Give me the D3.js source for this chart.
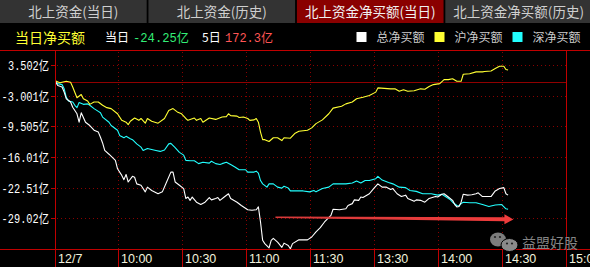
<!DOCTYPE html>
<html><head><meta charset="utf-8">
<script src="https://cdn.jsdelivr.net/npm/d3@7"></script>
<style>
html,body{margin:0;padding:0;background:#000;overflow:hidden;}
svg{display:block;}
</style></head>
<body>
<svg id="c" width="590" height="267"></svg>
<script>
// ---------- DATA ----------
const tabLabels = ["北上资金(当日)", "北上资金(历史)", "北上资金净买额(当日)", "北上资金净买额(历史)"];
const activeTab = 2;
const titleText = "当日净买额";
const todayValue = "-24.25亿";
const fiveDayValue = "172.3亿";
const seriesNames = ["总净买额", "沪净买额", "深净买额"];
const seriesColors = ["#ffffff", "#ffff33", "#22ffff"];
const yTickValues = [3.502, -3.001, -9.505, -16.01, -22.51, -29.02];
const yTickLabels = ["3.502亿", "-3.001亿", "-9.505亿", "-16.01亿", "-22.51亿", "-29.02亿"];
// minutes of trading since 9:30 (lunch break removed), 0..240
const xTickMinutes = [0, 30, 60, 90, 120, 150, 180, 210, 240];
const xTickLabels = ["12/7", "10:00", "10:30", "11:00", "11:30", "13:30", "14:00", "14:30", "15:00"];

// 总净买额 (total)
const totalMinutes = [1,2,4,5,6,8,9,11,12,13,15,17,19,21,22,23,24,26,29,30,32,33,34,35,37,38,39,41,43,44,46,49,51,53,55,56,57,59,61,62,63,64,65,67,69,71,73,74,76,77,78,80,82,83,86,88,91,93,95,96,97,98,99,101,102,103,105,107,108,110,111,112,115,119,121,123,125,127,130,131,134,137,138,140,141,143,144,145,148,150,152,154,156,158,159,161,163,165,166,169,170,172,174,176,179,180,182,183,185,187,188,189,190,191,192,194,196,198,199,201,205,207,209,211,212,213];
const totalValues = [-0.05,-0.8,-1.1,-2.2,-3.6,-4.3,-5.4,-6.8,-8.6,-6.6,-8.6,-9.3,-10.3,-10.7,-11.8,-13.0,-14.6,-15.4,-16.7,-18.5,-19.9,-20.8,-19.7,-21.3,-20.1,-20.3,-21.7,-22.0,-23.4,-22.4,-23.1,-23.8,-23.4,-21.3,-19.2,-19.2,-21.3,-22.0,-22.7,-24.8,-24.5,-25.2,-24.5,-25.6,-26.1,-25.6,-24.6,-25.1,-24.8,-24.6,-25.2,-24.5,-23.8,-24.8,-25.6,-26.3,-27.2,-27.3,-27.2,-26.6,-29.8,-33.7,-34.4,-35.3,-33.7,-33.3,-34.1,-35.2,-34.3,-34.8,-35.5,-34.4,-33.6,-33.6,-33.0,-31.9,-31.0,-29.8,-28.4,-27.1,-27.2,-27.0,-26.3,-25.9,-25.1,-25.2,-24.5,-24.6,-23.8,-22.7,-21.7,-22.4,-22.4,-22.9,-22.7,-23.8,-24.4,-24.1,-24.8,-25.4,-25.1,-25.2,-25.6,-24.8,-24.4,-24.5,-23.9,-23.8,-24.5,-25.2,-26.1,-26.6,-26.5,-25.6,-23.9,-24.1,-24.0,-23.8,-23.6,-24.4,-24.4,-23.2,-22.7,-22.5,-23.8,-24.1];

// 沪净买额 (Shanghai)
const shMinutes = [1,3,6,8,9,11,13,14,16,17,19,21,23,25,27,30,32,34,35,36,38,40,41,43,44,46,49,52,54,56,58,60,62,63,66,67,69,70,73,76,79,81,82,83,86,87,89,91,92,94,95,96,97,98,99,101,103,105,107,108,111,113,115,119,121,123,126,129,131,135,137,140,142,145,148,151,152,158,160,162,164,166,169,172,174,176,178,181,183,185,187,189,191,192,195,198,201,202,205,207,209,211,212,213];
const shValues = [0.15,-0.2,0.1,-0.1,-1.1,-3.4,-2.7,-3.6,-4.1,-4.8,-4.3,-4.3,-5.0,-5.5,-5.7,-6.8,-8.2,-8.6,-9.1,-8.4,-7.7,-8.2,-7.8,-8.8,-7.8,-8.4,-8.8,-7.8,-6.1,-5.7,-6.4,-6.8,-7.8,-8.2,-7.7,-8.2,-7.8,-8.6,-7.7,-8.0,-7.5,-7.4,-6.8,-7.2,-7.3,-7.6,-7.5,-7.8,-8.2,-8.1,-7.8,-8.6,-10.7,-12.3,-12.3,-12.7,-11.9,-11.9,-12.5,-11.9,-12.0,-11.0,-10.5,-10.3,-9.8,-8.9,-8.1,-6.8,-5.6,-5.2,-4.7,-4.3,-3.6,-3.3,-2.9,-2.2,-1.3,-1.5,-1.5,-2.0,-1.7,-2.0,-1.9,-1.5,-1.6,-1.0,-0.6,-0.4,0.45,0.45,0.65,0.1,0.1,1.6,1.7,2.1,2.1,2.2,2.3,2.8,3.3,3.3,2.6,2.5];

// 深净买额 (Shenzhen)
const szMinutes = [1,2,4,5,6,7,9,10,11,12,14,16,17,19,21,22,23,26,27,30,31,33,34,36,37,39,41,42,44,48,50,52,54,55,57,59,61,62,64,66,68,70,73,74,76,78,79,81,83,85,87,90,91,94,95,96,97,98,100,101,103,105,107,108,110,111,114,117,120,122,123,126,129,131,134,137,140,142,144,146,148,151,152,154,157,159,162,165,167,170,173,177,180,182,184,186,187,189,190,191,192,195,198,201,204,207,210,212,213];
const szValues = [0.1,-0.4,-0.6,-1.5,-3.3,-4.1,-4.3,-5.0,-5.5,-4.4,-4.8,-4.7,-5.0,-5.7,-6.3,-6.6,-7.5,-8.6,-9.3,-10.3,-11.4,-11.9,-11.6,-12.1,-12.3,-13.2,-13.9,-14.6,-14.2,-14.6,-14.8,-14.5,-13.2,-13.1,-14.0,-15.0,-15.6,-16.7,-16.8,-16.8,-17.4,-17.1,-17.3,-16.9,-17.4,-17.6,-17.4,-17.1,-17.6,-18.1,-18.7,-18.7,-19.2,-19.2,-19.0,-19.4,-21.0,-21.7,-22.4,-21.7,-21.7,-22.4,-22.6,-22.2,-22.6,-23.2,-23.2,-23.2,-23.4,-23.1,-23.4,-22.7,-22.4,-21.7,-21.7,-21.7,-21.5,-21.1,-21.5,-21.0,-21.0,-20.6,-20.1,-20.9,-21.4,-21.7,-22.4,-22.5,-23.1,-23.3,-23.8,-23.8,-24.1,-23.9,-24.5,-25.1,-25.6,-26.3,-26.4,-25.9,-25.6,-25.7,-25.7,-26.1,-26.5,-26.2,-26.1,-27.0,-27.1];

// annotation arrow (in data units: minute, value)
const arrowFrom = [104, -28.8];
const arrowTo = [215.5, -29.25];
const watermarkText = "益盟好股";

// ---------- DRAW ----------
const svg = d3.select("#c");
const W = 590, H = 267;
const plotTop = 50, plotBottom = 249, axisLeft = 55, axisRight = 566;
const cjk = "'Noto Sans CJK SC','Noto Sans',sans-serif";
const mono = "'Liberation Mono','DejaVu Sans Mono','Noto Sans CJK SC',monospace";

svg.append("rect").attr("width", W).attr("height", H).attr("fill", "#000");

const x = d3.scaleLinear().domain([0, 240]).range([53.5, 565.7]);
const y = d3.scaleLinear().domain([3.502, -29.02]).range([65.3, 218.3]);

// tabs
const tabX = d3.scaleBand().domain(d3.range(tabLabels.length)).range([0, W + 2]).paddingInner(0.012);
const tabs = svg.append("g");
tabs.selectAll("rect").data(tabLabels).join("rect")
  .attr("x", (d, i) => tabX(i)).attr("y", 0)
  .attr("width", tabX.bandwidth()).attr("height", 23)
  .attr("fill", (d, i) => i === activeTab ? "#8a0000" : "#333333");
tabs.selectAll("text").data(tabLabels).join("text")
  .attr("x", (d, i) => tabX(i) + tabX.bandwidth() / 2).attr("y", 16.5)
  .attr("text-anchor", "middle")
  .attr("font-family", cjk).attr("font-size", 13.5)
  .attr("fill", (d, i) => i === activeTab ? "#f0f0f0" : "#cfcfcf")
  .text(d => d);

// header row
svg.append("text").attr("x", 15).attr("y", 42.5).attr("font-family", cjk).attr("font-size", 14)
  .attr("fill", "#ffff33").text(titleText);
svg.append("text").attr("x", 105).attr("y", 42).attr("font-family", cjk).attr("font-size", 12)
  .attr("fill", "#ffffff").text("当日");
svg.append("text").attr("x", 133).attr("y", 42).attr("font-family", mono).attr("font-size", 13)
  .attr("textLength", 56).attr("lengthAdjust", "spacingAndGlyphs")
  .attr("fill", "#33ee77").text(todayValue);
svg.append("text").attr("x", 202).attr("y", 42).attr("font-family", cjk).attr("font-size", 12)
  .attr("fill", "#ffffff").text("5日");
svg.append("text").attr("x", 225).attr("y", 42).attr("font-family", mono).attr("font-size", 13)
  .attr("textLength", 48).attr("lengthAdjust", "spacingAndGlyphs")
  .attr("fill", "#ff5555").text(fiveDayValue);

// legend
const legX = [356.5, 434.5, 512.5];
const leg = svg.append("g");
leg.selectAll("rect").data(seriesNames).join("rect")
  .attr("x", (d, i) => legX[i]).attr("y", 32).attr("width", 10).attr("height", 10)
  .attr("fill", (d, i) => seriesColors[i]);
leg.selectAll("text").data(seriesNames).join("text")
  .attr("x", (d, i) => legX[i] + 20).attr("y", 42)
  .attr("font-family", cjk).attr("font-size", 12).attr("fill", "#cccccc")
  .text(d => d);

// grid (dotted)
const grid = svg.append("g").attr("stroke", "#8a0000").attr("stroke-width", 1).attr("stroke-dasharray", "1,3").attr("shape-rendering", "crispEdges");
grid.selectAll("line.h").data(yTickValues).join("line").attr("class", "h")
  .attr("x1", axisLeft + 2).attr("x2", axisRight)
  .attr("y1", d => Math.round(y(d)) + 0.5).attr("y2", d => Math.round(y(d)) + 0.5);
grid.selectAll("line.v").data(xTickMinutes.slice(1, -1)).join("line").attr("class", "v")
  .attr("y1", plotTop + 2).attr("y2", plotBottom)
  .attr("x1", d => Math.round(x(d)) + 0.5).attr("x2", d => Math.round(x(d)) + 0.5);

// zero line
svg.append("line").attr("x1", axisLeft).attr("x2", axisRight)
  .attr("y1", Math.round(y(0)) + 0.5).attr("y2", Math.round(y(0)) + 0.5)
  .attr("stroke", "#900000").attr("stroke-width", 1).attr("shape-rendering", "crispEdges");

// frame lines
const frame = svg.append("g").attr("stroke", "#c00000").attr("stroke-width", 1).attr("shape-rendering", "crispEdges");
frame.append("line").attr("x1", 0).attr("x2", W).attr("y1", plotTop + 0.5).attr("y2", plotTop + 0.5);
frame.append("line").attr("x1", 0).attr("x2", W).attr("y1", plotBottom + 0.5).attr("y2", plotBottom + 0.5);
frame.append("line").attr("x1", axisLeft + 0.5).attr("x2", axisLeft + 0.5).attr("y1", plotTop).attr("y2", H);
frame.append("line").attr("x1", axisRight + 0.5).attr("x2", axisRight + 0.5).attr("y1", plotTop).attr("y2", H);
frame.selectAll("line.tk").data(xTickMinutes.slice(1, -1)).join("line").attr("class", "tk")
  .attr("x1", d => Math.round(x(d)) + 0.5).attr("x2", d => Math.round(x(d)) + 0.5)
  .attr("y1", plotBottom).attr("y2", H);
frame.selectAll("line.ytk").data(yTickValues).join("line").attr("class", "ytk")
  .attr("x1", 51).attr("x2", axisLeft)
  .attr("y1", d => Math.round(y(d)) + 0.5).attr("y2", d => Math.round(y(d)) + 0.5);

// y labels
svg.append("g").selectAll("text").data(yTickLabels).join("text")
  .attr("x", 49).attr("y", (d, i) => y(yTickValues[i]) + 5)
  .attr("text-anchor", "end")
  .attr("font-family", mono).attr("font-size", 13)
  .attr("textLength", d => (d.length - 1) * 6.4 + 9).attr("lengthAdjust", "spacingAndGlyphs")
  .attr("fill", "#ffffff").text(d => d);

// x labels
svg.append("g").selectAll("text").data(xTickLabels).join("text")
  .attr("x", (d, i) => (i === 0 ? axisLeft : Math.round(x(xTickMinutes[i]))) + 3)
  .attr("y", 262.5)
  .attr("font-family", "'Liberation Sans',Arial,sans-serif").attr("font-size", 12.5)
  .attr("fill", "#f2f2dc").text(d => d);

// series lines
const clip = svg.append("clipPath").attr("id", "pc").append("rect")
  .attr("x", axisLeft + 1).attr("y", plotTop + 1).attr("width", axisRight - axisLeft - 1).attr("height", plotBottom - plotTop - 1);
const line = d3.line().x(d => x(d[0])).y(d => y(d[1]));
const series = [
  d3.zip(totalMinutes, totalValues),
  d3.zip(shMinutes, shValues),
  d3.zip(szMinutes, szValues)
];
const lines = svg.append("g").attr("clip-path", "url(#pc)");
[2, 1, 0].forEach(i => {
  lines.append("path").datum(series[i])
    .attr("d", line).attr("fill", "none")
    .attr("stroke", seriesColors[i]).attr("stroke-width", 1.1)
    .attr("stroke-linejoin", "round");
});

// annotation arrow
(function () {
  const x0 = x(arrowFrom[0]), y0 = y(arrowFrom[1]);
  const x1 = x(arrowTo[0]), y1 = y(arrowTo[1]);
  const headLen = 9, headHalf = 5;
  const xb = x1 - headLen;
  const yb = y0 + (y1 - y0) * (xb - x0) / (x1 - x0);
  const p = d3.path();
  p.moveTo(x0, y0 - 0.8);
  p.lineTo(xb, yb - 2);
  p.lineTo(xb, yb - headHalf);
  p.lineTo(x1, y1);
  p.lineTo(xb, yb + headHalf);
  p.lineTo(xb, yb + 2);
  p.lineTo(x0, y0 + 0.8);
  p.closePath();
  const grad = svg.append("defs").append("linearGradient").attr("id", "ag")
    .attr("x1", "0").attr("x2", "1").attr("y1", "0").attr("y2", "0");
  grad.append("stop").attr("offset", "0").attr("stop-color", "#d63a3a");
  grad.append("stop").attr("offset", "1").attr("stop-color", "#f03c3c");
  svg.append("path").attr("d", p.toString()).attr("fill", "url(#ag)");
})();

// watermark
const wm = svg.append("g");
wm.append("ellipse").attr("cx", 498).attr("cy", 239.5).attr("rx", 8).attr("ry", 7).attr("fill", "#7d7d7d");
wm.append("ellipse").attr("cx", 509.5).attr("cy", 245).attr("rx", 8.5).attr("ry", 6.5).attr("fill", "#8a8a8a").attr("stroke", "#000").attr("stroke-width", 1);
[[495, 237], [500, 237], [507, 243.5], [512, 243.5]].forEach(c =>
  wm.append("circle").attr("cx", c[0]).attr("cy", c[1]).attr("r", 1.1).attr("fill", "#222"));
wm.append("text").attr("x", 522).attr("y", 248).attr("font-family", cjk).attr("font-size", 14)
  .attr("fill", "#858585").text(watermarkText);
</script>
</body></html>
